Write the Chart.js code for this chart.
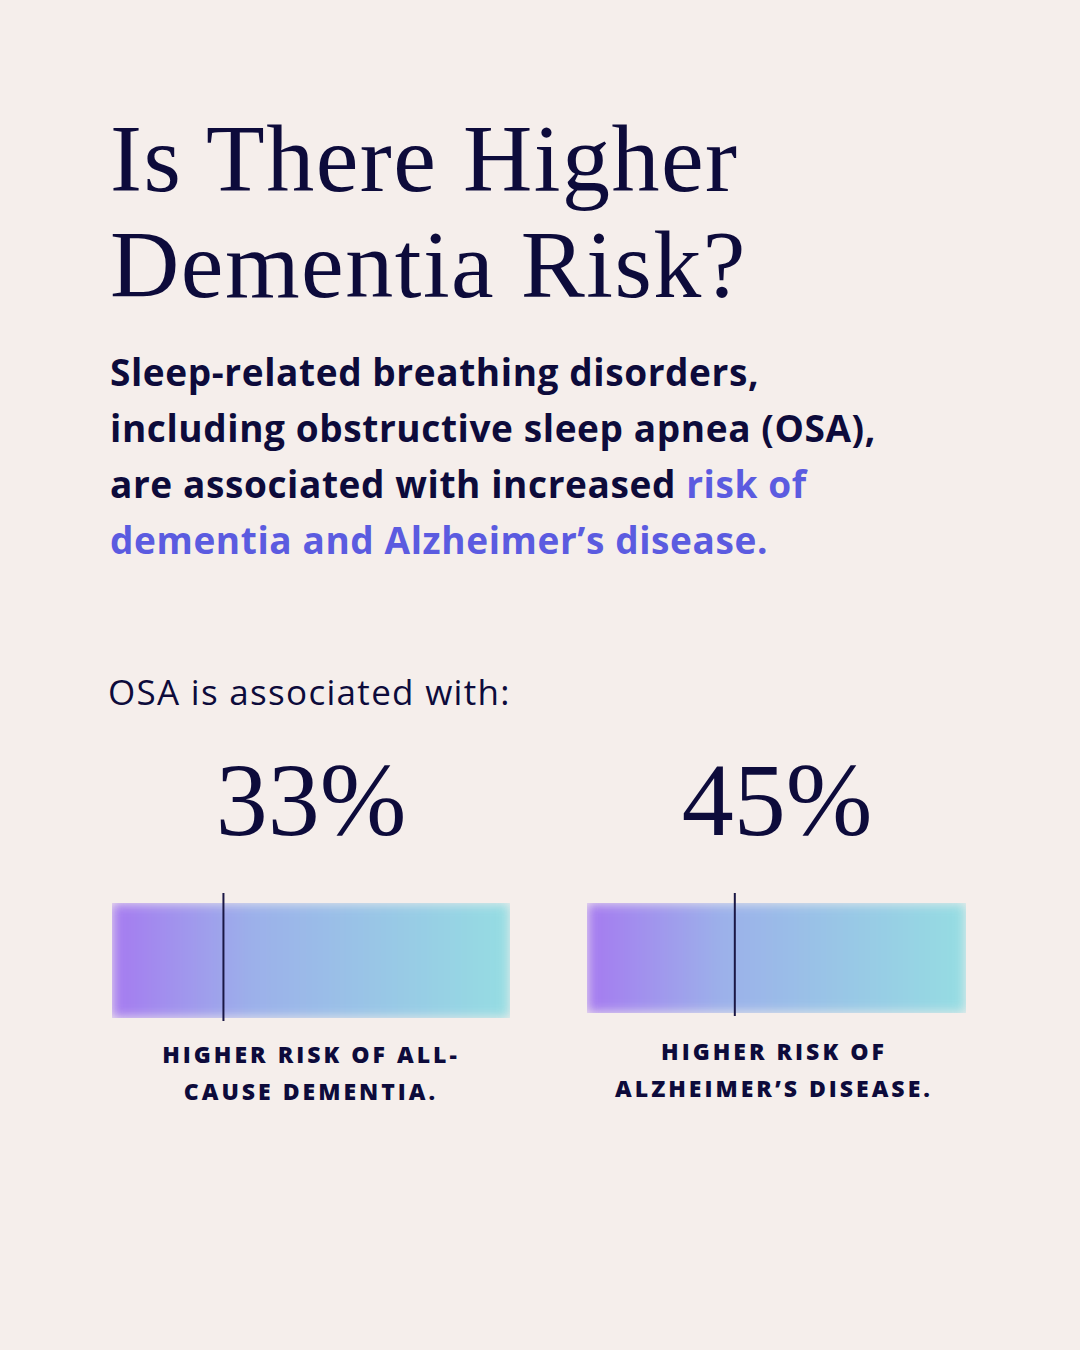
<!DOCTYPE html>
<html><head><meta charset="utf-8">
<script src="https://cdn.jsdelivr.net/npm/chart.js@4"></script>
<style>
html,body{margin:0;padding:0;width:1080px;height:1350px;background:#f5eeeb;overflow:hidden}
body{position:relative;color:#0d0b3b}
.t{position:absolute;left:110px;top:106px;font-family:"Liberation Serif",serif;font-size:96px;line-height:106px;margin:0;font-weight:normal;letter-spacing:1.5px}
.s{position:absolute;left:110px;top:344px;font-family:"Open Sans",sans-serif;font-weight:700;font-size:37px;line-height:56px;width:960px;letter-spacing:0.6px;white-space:nowrap}
.s .h{color:#5b5be0}
.o{position:absolute;left:108px;top:668px;font-family:"Open Sans",sans-serif;font-size:35px;letter-spacing:1.3px}
.n{position:absolute;top:740px;width:400px;text-align:center;font-family:"Liberation Serif",serif;font-size:104px}
.c{position:absolute;width:420px;text-align:center;font-family:"Open Sans",sans-serif;font-weight:800;font-size:23px;letter-spacing:3px;line-height:37px}
canvas{position:absolute}
</style></head><body>
<h1 class="t">Is There Higher<br>Dementia Risk?</h1>
<div class="s">Sleep-related breathing disorders,<br>including obstructive sleep apnea (OSA),<br>are associated with increased <span class="h">risk of</span><br><span class="h">dementia and Alzheimer’s disease.</span></div>
<div class="o">OSA is associated with:</div>
<div class="n" id="n0" style="left:111px"></div>
<div class="n" id="n1" style="left:577px"></div>
<div class="c" id="c0" style="left:101px;top:1036px"></div>
<div class="c" id="c1" style="left:564px;top:1033px"></div>
<div style="position:absolute;left:100px;top:885px;width:422px;height:145px"><canvas id="ch0"></canvas></div>
<div style="position:absolute;left:575px;top:885px;width:403px;height:140px"><canvas id="ch1"></canvas></div>
<script>
const riskPct = [33, 45];
const captions = [["HIGHER RISK OF ALL-","CAUSE DEMENTIA."],["HIGHER RISK OF","ALZHEIMER’S DISEASE."]];
const barLength = [100, 100];
const markerPos = [28, 39];

riskPct.forEach((v,i)=>{
  document.getElementById('n'+i).textContent = v + '%';
  document.getElementById('c'+i).innerHTML = captions[i].join('<br>');
  const blurPlugin = {
    id:'blur',
    beforeDatasetsDraw(ch){ch.ctx.save();ch.ctx.filter='blur(6px)';},
    afterDatasetsDraw(ch){
      ch.ctx.restore();
      const x = ch.scales.x.getPixelForValue(markerPos[i]);
      const c = ch.ctx; c.save(); c.strokeStyle='#1a1745'; c.lineWidth=2;
      c.beginPath(); c.moveTo(x, ch.chartArea.top-10); c.lineTo(x, ch.chartArea.bottom+3); c.stroke(); c.restore();
    }
  };
  new Chart(document.getElementById('ch'+i), {
    type:'bar',
    data:{labels:[''],datasets:[{data:[barLength[i]],
      backgroundColor(ctx){
        const a = ctx.chart.chartArea; if(!a) return '#a0a0e8';
        const g = ctx.chart.ctx.createLinearGradient(a.left,0,a.right,0);
        g.addColorStop(0,'#a57af0'); g.addColorStop(0.35,'#9cb0ea'); g.addColorStop(1,'#95dde2');
        return g;
      },
      borderWidth:0, barPercentage:1, categoryPercentage:1}]},
    options:{indexAxis:'y',responsive:true,maintainAspectRatio:false,animation:false,
      layout:{padding:{left:12,right:12,top:18,bottom:12}},
      plugins:{legend:{display:false},tooltip:{enabled:false}},
      scales:{x:{min:0,max:100,display:false},y:{display:false}}},
    plugins:[blurPlugin]
  });
});
</script>
</body></html>
